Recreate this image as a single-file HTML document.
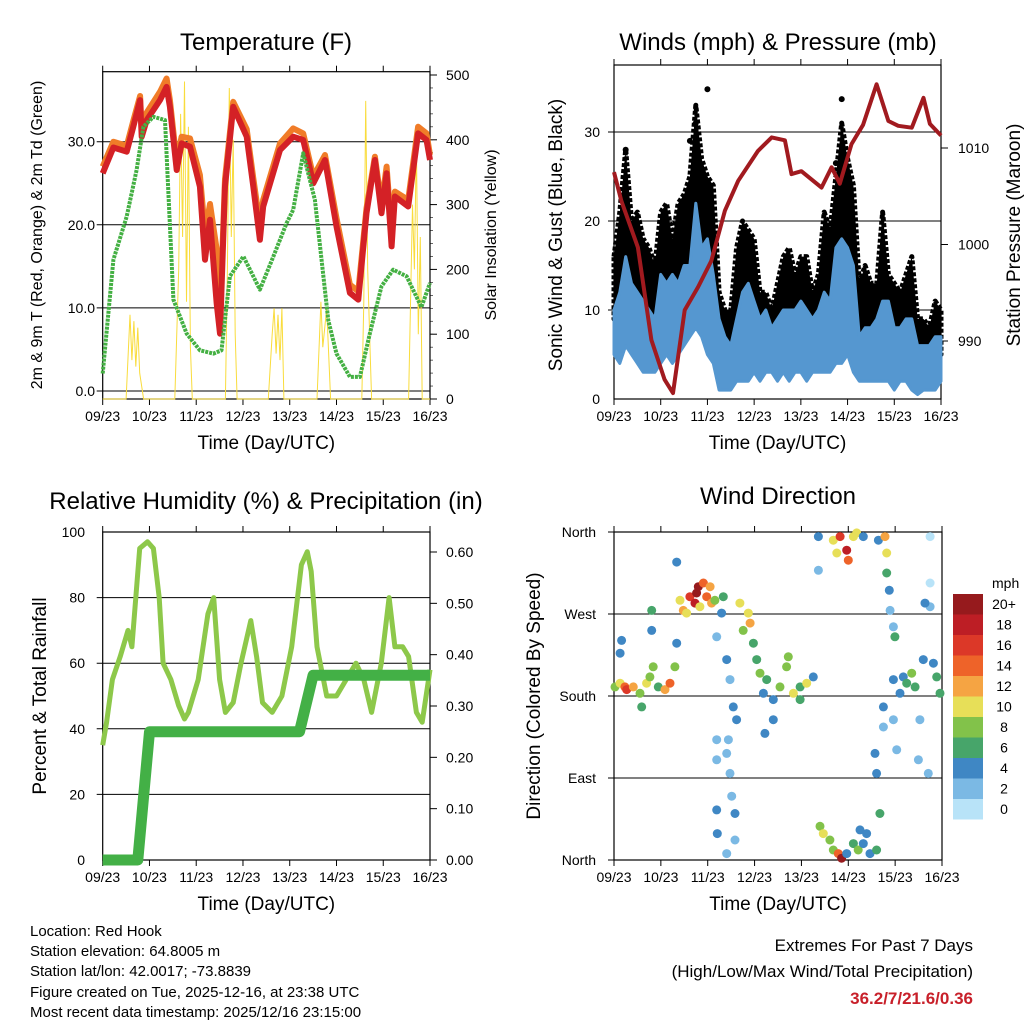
<!DOCTYPE html>
<html><head><meta charset="utf-8"><style>
body{margin:0;background:#fff;}
svg text{font-family:"Liberation Sans",sans-serif;fill:#000;}
</style></head><body>
<svg id="svg" width="1024" height="1024" viewBox="0 0 1024 1024" xmlns="http://www.w3.org/2000/svg">
<g id="g"></g>
<g font-size="15">
<text x="30" y="936">Location: Red Hook</text>
<text x="30" y="956">Station elevation: 64.8005 m</text>
<text x="30" y="976">Station lat/lon: 42.0017; -73.8839</text>
<text x="30" y="997">Figure created on Tue, 2025-12-16, at 23:38 UTC</text>
<text x="30" y="1017">Most recent data timestamp: 2025/12/16 23:15:00</text>
</g>
<g font-size="17" text-anchor="end">
<text x="973" y="951">Extremes For Past 7 Days</text>
<text x="973" y="977">(High/Low/Max Wind/Total Precipitation)</text>
<text x="973" y="1004" font-weight="bold" style="fill:#c8202a">36.2/7/21.6/0.36</text>
</g>
</svg>
<script>
// ---------- DATA ----------
const dayLabels=["09/23","10/23","11/23","12/23","13/23","14/23","15/23","16/23"];
const tempHours=[0,5.5,12.3,15.7,19.2,20,22.6,29.4,32.8,34.5,38,40.5,44.8,49.9,52.5,55.1,58.5,60.2,62.8,67,73.9,77.3,80.7,82.4,91,97.8,102.9,108.1,114.1,120,126.9,131.2,135.4,139.7,143.1,145.7,148.3,150,156.8,161.9,166.2,168];
const temp2m=[26.2,29.3,28.8,31.8,35,30.6,32.6,35,36.6,34.2,26.6,29.8,29.4,24.6,15.8,20.6,10.5,6.9,24.6,34.2,30.6,24.6,18.2,22.2,29,30.6,30.2,25,27.8,19.8,11.8,11,21.4,27.8,21.4,26.2,17.4,23.4,22.2,31,30.2,27.8];
const temp9m=[27,30,29.5,32.5,35.5,31.5,33.5,36,37.6,35,27.5,30.6,30.4,26,19,22.5,17,9,25.5,34.8,31.5,25.6,20,23,29.8,31.6,31,25.8,28.4,20.8,12.8,12,22,28.2,22.4,27,19,24,23,31.8,31,28.4];
const dewHours=[0,5.5,12.3,17.4,20.9,26,32,33.7,36.3,43.1,49.9,56.8,61,65.3,72.2,80.7,87.6,94.4,97.8,102.9,108.9,115.8,120,126.9,132,137.1,143.1,149.1,156,163.6,168];
const dew2m=[2.1,15.8,21,26.6,31.8,33,32.6,23.8,11,6.9,4.9,4.5,4.9,13.8,16.2,12.2,16.2,20.2,21.8,28.6,23,8.5,4.5,1.7,1.7,6.9,12.6,14.6,13.8,10.1,13];
const solarHours=[0,12,14,15,16,17,18,19,21,37,39,40,41,42,43,44,45,46,63,64,65,66,67,68,69,85,87,88,89,90,91,92,93,110,112,113,115,117,133,134,135,136,137,138,157,159,160,161,162,163,164,168];
const solarVals=[0,0,130,60,120,50,110,40,0,0,200,440,250,490,150,420,80,0,0,200,480,250,400,100,0,0,100,140,70,130,60,140,0,0,150,80,140,0,0,150,460,200,100,0,0,300,200,400,100,250,0,0];
const presHours=[0,3.8,12.3,19.2,26,30.3,36.3,43.2,50,57,63.8,74,81,87.8,91.2,96.3,106.6,111.8,116,122,128,134.9,141,146,153,159,162.3,168];
const presVals=[1007.5,1004.5,999.7,990.1,986,984.6,993.2,995.6,998.3,1003.5,1006.6,1009.7,1011.1,1010.8,1007.3,1007.6,1005.9,1008,1006.3,1010.4,1012.4,1016.6,1012.8,1012.3,1012.1,1015.2,1012.5,1011.3];
const windHours=[0,3,6,9,12,15,18,21,24,27,30,33,36,39,42,45,48,51,54,57,60,63,66,69,72,75,78,81,84,87,90,93,96,99,102,105,108,111,114,117,120,123,126,129,132,135,138,141,144,147,150,153,156,159,162,165,168];
const gustHi=[16,21,28,20,21,18,17,15,21,22,18,22,23,25,33,27,25,24,12,10,10,17,20,19,18,12,12,10,13,16,17,14,16,16,12,14,21,19,25,31,27,24,13,15,13,13,21,14,13,12,14,16,9,9,8,11,10];
const gustLo=[9,8,9,8,7,7,6,6,7,8,7,8,9,10,11,10,9,7,4,3,3,4,5,4,5,5,6,5,5,6,6,5,6,5,6,6,6,6,8,8,9,7,4,5,5,6,5,6,5,5,6,5,3,3,4,5,5];
const windHi=[10,12,16,13,12,11,10,9,14,13,14,13,15,15,22,17,18,14,9,7,6,9,12,13,11,9,10,8,9,10,10,10,11,10,9,10,12,11,17,18,17,15,7,8,8,9,11,11,8,8,9,9,6,6,6,7,7];
const windLo=[5,4,6,5,4,3,3,3,4,5,4,5,6,7,8,7,5,4,1,1,1,2,2,2,3,2,3,3,2,3,2,3,3,2,3,3,3,3,4,4,5,3,2,2,2,2,2,2,1,2,2,1,0.5,1,1,1,2];
const gustOutlierHours=[48,117,114,39,6,42];
const gustOutlierVals=[34.8,33.7,26.5,29,28,31];
const rhHours=[0,2,5,9,13,15,19,23,26,29,31,35,39,42,44,49,54,57,60,63,67,71,76,79,82,87,92,97,102,105,107,110,115,120,125,130,134,138,143,147,150,154,157,161,164,168];
const rhVals=[35,42,55,62,70,65,95,97,95,80,60,55,47,43,45,55,75,80,55,45,48,60,73,62,48,45,50,65,90,94,88,65,50,50,55,60,55,45,60,80,65,65,62,45,42,58];
const precipHours=[0,18,24,101,108,168];
const precipVals=[0,0,0.25,0.25,0.36,0.36];
const dirHours=[0.5,3.1,5.6,6.5,9.9,13.3,14.2,16.7,18.4,19.3,19.3,20.1,22.7,26.1,28.7,31.2,32.1,32.1,3.1,3.9,33.8,35.5,38.9,42.3,43.2,45.8,47.5,50,51.7,37.2,41.5,44,49.2,55.1,56,52.6,57.7,59.4,61.1,62.8,58.6,57.7,59.4,60.3,52.6,52.9,62,62,57.7,52.6,52.6,64.5,66.2,68.8,69.7,71.4,73.1,74.8,76.5,78.2,77.3,81.6,85,88.4,91.9,95.3,98.7,102.1,95.3,81.6,89.3,104.7,104.7,112.3,114.1,115.8,119.2,120,122.6,124.3,127.7,135.4,138.8,139.7,139.7,141,105.5,107.2,110.6,112.3,114.9,116.6,119.2,122.6,125.1,126,127.7,129.4,131.1,134.5,136.2,134.5,133.7,138,138,143.1,144.8,143.9,143.1,146.5,148.2,149.9,152.5,154.2,158.4,156.7,155.9,161,163.6,165.3,167,161.9,161.9,159.3,141.4,143.1,161.9];
const dirDeg=[190,194,190,187,190,183,168,194,201,274,252,212,190,187,194,212,327,238,227,241,285,274,289,293,300,304,289,282,285,271,282,278,300,271,289,245,220,198,168,154,132,117,95,70,55,29,51,22,7,132,110,282,252,271,260,238,220,205,183,198,139,176,190,212,183,190,194,201,176,154,223,355,318,351,337,355,340,329,355,359,355,351,355,337,315,296,37,29,22,11,7,2,7,18,11,33,18,29,7,11,51,95,117,146,168,154,121,245,198,183,201,194,205,190,220,154,110,95,216,201,183,278,304,282,274,256,355];
const dirSpeed=[8,10,14,16,12,8,6,10,8,6,4,8,6,12,14,8,4,4,4,4,10,12,16,20,20,14,14,12,8,10,18,10,12,4,6,2,4,2,4,4,2,2,2,2,4,4,4,2,2,2,2,10,8,10,12,6,6,8,4,6,4,4,8,8,10,6,10,4,6,4,8,4,2,10,10,16,18,14,10,10,4,4,12,10,6,4,8,10,8,8,14,20,4,6,8,4,4,4,4,6,6,4,4,2,4,2,2,6,4,4,4,6,8,6,4,2,2,2,4,6,6,2,0,4,2,2,0];
const colorLabels=["20+","18","16","14","12","10","8","6","4","2","0"];
const colorFills=["#961a1d","#bd1e25","#dc3828","#ee6329","#f5a443","#e7df58","#82c24a","#47a56a","#3f87c4","#7bb9e4","#b8e3f8"];

// ---------- DRAW ----------
const NS="http://www.w3.org/2000/svg";
const G=document.getElementById('g');
function el(tag,attrs,parent){const e=document.createElementNS(NS,tag);for(const k in attrs)e.setAttribute(k,attrs[k]);(parent||G).appendChild(e);return e;}
function txt(x,y,s,size,anchor,parent,rot){const t=el('text',{x:x,y:y,'font-size':size,'text-anchor':anchor||'middle'},parent);if(rot)t.setAttribute('transform','rotate(-90 '+x+' '+y+')');t.textContent=s;return t;}
function mkX(x0,x1){return h=>x0+h*(x1-x0)/168;}
function mkY(v0,y0,v1,y1){return v=>y0+(v-v0)*(y1-y0)/(v1-v0);}
function poly(hs,vs,X,Y){return hs.map((h,i)=>X(h).toFixed(1)+','+Y(vs[i]).toFixed(1)).join(' ');}

function frame(name,x0,y0,x1,y1,X){
  const g=el('g',{});
  
  
  el('rect',{x:x0,y:y0,width:x1-x0,height:y1-y0,fill:'none',stroke:'#000','stroke-width':1.2},g);
  dayLabels.forEach((d,i)=>{const x=X(i*24);
    el('line',{x1:x,y1:y1,x2:x,y2:y1+6,stroke:'#000'},g);
    el('line',{x1:x,y1:y0,x2:x,y2:y0-6,stroke:'#000'},g);
    const t=txt(x,y1+22,d,14,'middle',g);
    
    
  });
  const tt=txt((x0+x1)/2,y1+50,'Time (Day/UTC)',19,'middle',g);
  
  
  return g;
}
function hgrid(g,x0,x1,y){el('line',{x1:x0-6,y1:y,x2:x1,y2:y,stroke:'#000','stroke-width':1},g);}

// ===== Temperature =====
{
 const X=mkX(102.7,430), Y=mkY(0,391,30,141.7), YS=mkY(0,399,500,75);
 const g=frame('temperature-panel',102.7,71.7,430,399,X);
 txt(266,50,'Temperature (F)',24,'middle',g);
 [0,10,20,30].forEach(v=>{hgrid(g,102.7,430,Y(v));txt(95,Y(v)+5,v.toFixed(1),14,'end',g);});
 for(let v=0;v<=500;v+=100){el('line',{x1:430,y1:YS(v),x2:437,y2:YS(v),stroke:'#000'},g);txt(446,YS(v)+5,String(v),14,'start',g);}
 for(let v=0;v<=500;v+=20){el('line',{x1:430,y1:YS(v),x2:433,y2:YS(v),stroke:'#000','stroke-width':0.6},g);}
 txt(42,235,'2m & 9m T (Red, Orange) & 2m Td (Green)',16,'middle',g,true);
 txt(496,235,'Solar Insolation (Yellow)',16,'middle',g,true);
 const s=el('polyline',{points:poly(solarHours,solarVals,X,YS),fill:'none',stroke:'#f9dc3c','stroke-width':1},g);
 
 const o=el('polyline',{points:poly(tempHours,temp9m,X,Y),fill:'none',stroke:'#f07c28','stroke-width':6,'stroke-linejoin':'round'},g);
 
 const r=el('polyline',{points:poly(tempHours,temp2m,X,Y),fill:'none',stroke:'#d42126','stroke-width':6,'stroke-linejoin':'round'},g);
 
 const d=el('polyline',{points:poly(dewHours,dew2m,X,Y),fill:'none',stroke:'#44b043','stroke-width':4,'stroke-dasharray':'3 1','stroke-linejoin':'round'},g);
 
}
// ===== Winds =====
{
 const X=mkX(614,941), Y=mkY(0,399,30,132), YP=mkY(990,341,1010,148);
 const g=frame('winds-panel',614,65,941,399,X);
 txt(778,50,'Winds (mph) & Pressure (mb)',24,'middle',g);
 [0,10,20,30].forEach(v=>{if(v>0)hgrid(g,614,941,Y(v));txt(600,Y(v)+5,String(v),14,'end',g);});
 [990,1000,1010].forEach(v=>{el('line',{x1:941,y1:YP(v),x2:948,y2:YP(v),stroke:'#000'},g);txt(958,YP(v)+5,String(v),14,'start',g);});
 txt(562,235,'Sonic Wind & Gust (Blue, Black)',19,'middle',g,true);
 txt(1020,235,'Station Pressure (Maroon)',19,'middle',g,true);
 const gp=poly(windHours,gustHi,X,Y)+' '+poly(windHours.slice().reverse(),gustLo.slice().reverse(),X,Y);
 const gb=el('polygon',{points:gp,fill:'#000',stroke:'#000','stroke-width':5,'stroke-linejoin':'round','stroke-dasharray':'4 2'},g);
 
 gustOutlierHours.forEach((h,i)=>{const c=el('circle',{cx:X(h),cy:Y(gustOutlierVals[i]),r:3,fill:'#000'},g);
   
   });
 const wp=poly(windHours,windHi,X,Y)+' '+poly(windHours.slice().reverse(),windLo.slice().reverse(),X,Y);
 const wb=el('polygon',{points:wp,fill:'#5597d0',stroke:'#5597d0','stroke-width':3,'stroke-linejoin':'round'},g);
 
 const p=el('polyline',{points:poly(presHours,presVals,X,YP),fill:'none',stroke:'#a11a1f','stroke-width':4,'stroke-linejoin':'round'},g);
 
}
// ===== RH =====
{
 const X=mkX(102.7,430), Y=mkY(0,860,100,532), YR=mkY(0,860,0.6,552);
 const g=frame('humidity-panel',102.7,532,430,860,X);
 txt(266,509,'Relative Humidity (%) & Precipitation (in)',24,'middle',g);
 [0,20,40,60,80,100].forEach(v=>{if(v>0&&v<100)hgrid(g,102.7,430,Y(v));txt(85,Y(v)+5,String(v),14,'end',g);});
 for(let v=0;v<=0.6001;v+=0.1){el('line',{x1:430,y1:YR(v),x2:437,y2:YR(v),stroke:'#000'},g);txt(446,YR(v)+5,v.toFixed(2),14,'start',g);}
 txt(46,696,'Percent & Total Rainfall',19,'middle',g,true);
 const r=el('polyline',{points:poly(rhHours,rhVals,X,Y),fill:'none',stroke:'#8dc84a','stroke-width':5,'stroke-linejoin':'round'},g);
 
 const p=el('polyline',{points:poly(precipHours,precipVals,X,YR),fill:'none',stroke:'#43b046','stroke-width':11,'stroke-linejoin':'round'},g);
 
}
// ===== Wind direction =====
{
 const X=mkX(614,942), Y=mkY(0,860,360,532);
 const g=frame('wind-direction-panel',614,532,942,860,X);
 txt(778,504,'Wind Direction',24,'middle',g);
 [[0,'North'],[90,'East'],[180,'South'],[270,'West'],[360,'North']].forEach(([v,s])=>{hgrid(g,614,942,Y(v));txt(596,Y(v)+5,s,14,'end',g);});
 txt(540,696,'Direction (Colored By Speed)',19,'middle',g,true);
 dirHours.forEach((h,i)=>{
   const sp=dirSpeed[i];let idx=10-Math.min(10,Math.floor(sp/2));
   const c=el('circle',{cx:X(h).toFixed(1),cy:Y(dirDeg[i]).toFixed(1),r:4.5,fill:colorFills[idx]},g);
   
   
 });
 const lg=el('g',{});
 
 
 txt(992,588,'mph',14,'start',lg);
 colorLabels.forEach((s,i)=>{const y=594+i*20.5;
   el('rect',{x:953,y:y,width:30,height:20.5,fill:colorFills[i]},lg);
   txt(1004,y+15,s,14,'middle',lg);});
}
</script>
</body></html>
